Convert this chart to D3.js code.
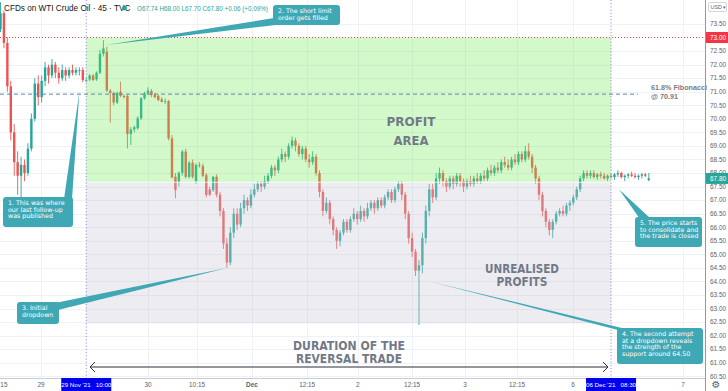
<!DOCTYPE html>
<html>
<head>
<meta charset="utf-8">
<script src="https://cdn.jsdelivr.net/npm/d3@7"></script>
<style>
  body { margin: 0; background: #fff; }
  svg { display: block; font-family: "Liberation Sans", Arial, sans-serif; }
</style>
</head>
<body>
<script>
// 45 min candles, [open, high, low, close], one array per trading day
const nov26 = [
  [73.3,74.3,73.2,73.9],[73.9,74.0,72.6,72.8],[72.8,73.0,71.0,71.2],[71.2,71.4,69.2,69.5],
  [69.5,69.8,67.9,68.4],[68.4,68.8,67.2,67.9],[67.9,68.6,67.0,68.3],[68.3,68.5,67.7,68.0],
  [68.0,69.1,67.9,68.9],[68.9,70.2,68.8,70.0],[70.0,71.5,69.9,71.3],[71.3,71.6,70.5,70.8]
];
const nov29 = [
  [70.8,71.6,70.6,71.4],[71.4,72.1,71.2,71.9],[71.9,72.0,71.3,71.6],[71.6,72.2,71.5,72.0],
  [72.0,72.1,71.5,71.7],[71.7,71.9,71.3,71.5],[71.5,72.0,71.4,71.8],[71.8,71.9,71.4,71.6],
  [71.6,71.9,71.5,71.8],[71.8,72.0,71.6,71.7],[71.7,71.9,71.6,71.8],[71.8,71.9,71.6,71.8],
  [71.8,71.9,71.35,71.43],[71.43,71.5,71.35,71.43],[71.45,71.65,71.4,71.6],[71.6,71.65,71.4,71.43],
  [71.45,71.75,71.4,71.7],[71.7,72.55,71.65,72.4],[72.4,72.9,72.3,72.6],[72.48,72.66,71.0,71.04],
  [71.04,71.1,69.86,70.95],[70.95,71.0,70.5,70.6],[70.6,71.0,70.55,70.95],[71.0,71.37,70.8,70.85],
  [70.85,70.9,70.75,70.8],[70.84,70.9,68.91,69.44],[69.44,69.7,69.03,69.61],[69.61,69.75,69.5,69.69],
  [69.65,70.1,69.6,70.02],[70.02,70.8,69.95,70.76],[70.76,71.0,70.7,70.94]
];
const nov30 = [
  [70.94,71.16,70.9,71.04],[71.03,71.1,70.8,70.88],[70.88,70.95,70.75,70.8],[70.85,70.9,70.65,70.69],
  [70.72,70.8,70.6,70.63],[70.63,70.75,70.55,70.66],[70.66,70.7,69.2,69.28],[69.28,69.4,67.8,67.84],
  [67.86,68.0,67.07,67.37],[67.68,68.05,67.5,68.01],[68.01,68.85,67.9,68.79],[68.79,68.9,67.8,67.86],
  [67.86,68.45,67.8,68.38],[68.38,68.5,67.8,67.86],[67.7,68.35,67.6,68.3],[68.3,68.4,68.2,68.28],
  [68.26,68.35,67.85,67.9],[67.92,68.0,67.1,67.19],[67.4,67.5,67.15,67.2],[67.37,67.9,67.3,67.86],
  [67.86,67.95,67.1,67.2],[67.2,67.3,66.4,66.6],[66.6,66.7,65.2,65.4],[65.4,65.6,64.5,64.7],
  [64.7,66.0,64.6,65.8],[65.8,66.7,65.6,66.5],[66.5,66.7,65.9,66.1],[66.1,66.9,66.0,66.7],
  [66.7,67.2,66.5,67.0],[67.0,67.1,66.6,66.8],[66.8,67.4,66.7,67.2]
];
const dec1 = [
  [67.2,67.6,67.1,67.4],[67.4,67.7,67.3,67.6],[67.6,67.7,67.3,67.5],[67.5,67.9,67.4,67.7],
  [67.7,68.0,67.6,67.9],[67.9,68.3,67.8,68.2],[68.2,68.3,67.9,68.1],[68.1,68.6,68.0,68.5],
  [68.5,68.9,68.4,68.7],[68.7,68.8,68.4,68.6],[68.6,69.1,68.5,69.0],[69.0,69.35,68.9,69.2],
  [69.2,69.3,68.8,69.0],[69.0,69.1,68.6,68.7],[68.7,69.0,68.5,68.9],[68.9,69.0,68.4,68.5],
  [68.5,68.7,68.2,68.4],[68.4,68.8,68.3,68.6],[68.6,68.7,67.9,68.0],[68.0,68.1,67.1,67.3],
  [67.3,67.4,66.4,66.6],[66.6,67.1,66.5,66.9],[66.9,67.0,66.1,66.3],[66.3,66.4,65.7,65.9],
  [65.9,66.0,65.2,65.5],[65.5,65.9,65.3,65.8],[65.8,66.3,65.7,66.2],[66.2,66.3,65.8,65.9],
  [65.9,66.4,65.8,66.3],[66.3,66.7,66.2,66.5],[66.5,66.6,66.1,66.3]
];
const dec2 = [
  [66.3,66.8,66.2,66.6],[66.6,66.7,66.2,66.4],[66.4,66.9,66.3,66.7],[66.7,67.0,66.6,66.9],
  [66.9,67.0,66.5,66.7],[66.7,67.1,66.6,67.0],[67.0,67.1,66.7,66.8],[66.8,67.2,66.7,67.1],
  [67.1,67.4,67.0,67.3],[67.3,67.4,66.9,67.0],[67.0,67.5,66.9,67.4],[67.4,67.7,67.3,67.6],
  [67.6,67.7,67.0,67.2],[67.2,67.3,66.3,66.5],[66.5,66.6,65.4,65.6],[65.6,65.8,64.9,65.1],
  [65.1,65.2,64.2,64.4],[64.4,64.8,62.4,64.6],[64.6,65.8,64.3,65.6],[65.6,66.8,65.4,66.6],
  [66.6,67.6,66.4,67.4],[67.4,67.6,66.9,67.1],[67.1,68.0,67.0,67.8],[67.8,68.2,67.6,68.0],
  [68.0,68.1,67.5,67.7],[67.7,67.8,67.3,67.5],[67.5,67.9,67.4,67.8],[67.8,67.9,67.4,67.6],
  [67.6,68.0,67.5,67.9],[67.9,68.0,67.5,67.7],[67.7,67.8,67.3,67.5]
];
const dec3 = [
  [67.5,67.8,67.4,67.7],[67.7,67.9,67.5,67.6],[67.6,67.9,67.5,67.8],[67.8,68.0,67.6,67.7],
  [67.7,68.0,67.6,67.9],[67.9,68.1,67.7,67.8],[67.8,68.2,67.7,68.1],[68.1,68.3,67.9,68.0],
  [68.0,68.3,67.9,68.2],[68.2,68.4,68.0,68.1],[68.1,68.5,68.0,68.4],[68.4,68.6,68.2,68.3],
  [68.3,68.5,68.1,68.2],[68.2,68.6,68.1,68.5],[68.5,68.7,68.3,68.4],[68.4,68.8,68.3,68.7],
  [68.7,68.8,68.4,68.5],[68.5,69.0,68.4,68.8],[68.8,69.1,68.5,68.6],[68.6,68.7,68.0,68.2],
  [68.2,68.3,67.6,67.8],[67.8,67.9,67.0,67.2],[67.2,67.3,66.4,66.6],[66.6,66.7,66.0,66.2],
  [66.2,66.3,65.7,65.9],[65.9,66.3,65.6,66.2],[66.2,66.6,66.1,66.5],[66.5,66.7,66.4,66.6],
  [66.6,66.8,66.4,66.5],[66.5,66.9,66.4,66.8],[66.8,67.0,66.6,66.9]
];
const dec6 = [
  [66.9,67.2,66.8,67.1],[67.1,67.5,67.0,67.4],[67.4,67.9,67.3,67.8],[67.8,68.1,67.7,68.0],
  [68.0,68.1,67.8,67.9],[67.9,68.1,67.8,68.0],[68.0,68.1,67.8,67.85],[67.85,68.0,67.75,67.95],
  [67.95,68.05,67.8,67.9],[67.9,68.0,67.75,67.8],[67.8,67.95,67.7,67.9],[67.9,68.0,67.8,67.85],
  [67.85,68.0,67.75,67.95],[67.95,68.1,67.85,68.0],[68.0,68.05,67.8,67.85],[67.85,67.95,67.7,67.9],
  [67.9,68.0,67.8,67.95],[67.95,68.05,67.85,67.9],[67.9,68.0,67.8,67.85],[67.85,67.95,67.75,67.9],
  [67.9,68.0,67.8,67.95],[67.95,68.0,67.85,67.9],[67.74,68.0,67.7,67.8]
];

const priceTicks = [60.5,61,61.5,62,62.5,63,63.5,64,64.5,65,65.5,66,66.5,67,67.5,68,68.5,69,69.5,70,70.5,71,71.5,72,72.5,73.5];
const timeLabels = ["12:15","29","30","10:15","Dec","12:15","2","12:15","3","12:15","6","7"];
const timeIdx    = [-0.3, 11.8, 43, 57.3, 73.3, 89.4, 104.2, 120, 135.4, 150.6, 166.9, 199];

const tradeStart = 25, tradeEnd = 178;
const tradeLabels = ["29 Nov '21   10:00", "06 Dec '21   08:30"];
const entryPrice = 73.00, lastPrice = 67.80, zoneMid = 67.66, fibPrice = 70.91, zoneLow = 62.45;

const W = 728, H = 391, plotR = 705, plotB = 378;
const svg = d3.select("body").append("svg").attr("width", W).attr("height", H);

const candles = [].concat(nov26, nov29, nov30, dec1, dec2, dec3, dec6)
  .map((d, i) => ({i, o: d[0], h: d[1], l: d[2], c: d[3]}));

const x = d3.scaleLinear().domain([0, 200]).range([0.5, 0.5 + 200 * 3.43]);
const y = d3.scaleLinear().domain([60.5, 73]).range([376.3, 37.5]);

svg.append("defs").append("clipPath").attr("id", "plot")
  .append("rect").attr("width", plotR).attr("height", plotB);

const plot = svg.append("g").attr("clip-path", "url(#plot)");

// grid
plot.append("g").selectAll("line").data(priceTicks).join("line")
  .attr("x1", 0).attr("x2", plotR).attr("y1", d => Math.round(y(d)) + 0.5).attr("y2", d => Math.round(y(d)) + 0.5)
  .attr("stroke", "#eef1f7");
plot.append("g").selectAll("line").data(timeIdx).join("line")
  .attr("x1", d => Math.round(x(d)) + 0.5).attr("x2", d => Math.round(x(d)) + 0.5).attr("y1", 0).attr("y2", plotB)
  .attr("stroke", "#eef1f7");

// candles
const cg = plot.append("g");
cg.selectAll("line").data(candles).join("line")
  .attr("x1", d => x(d.i)).attr("x2", d => x(d.i))
  .attr("y1", d => y(d.h)).attr("y2", d => y(d.l))
  .attr("stroke", d => d.c >= d.o ? "#26a69a" : "#ef5350").attr("stroke-width", 0.9);
cg.selectAll("rect").data(candles).join("rect")
  .attr("x", d => x(d.i) - 1.2).attr("width", 2.4)
  .attr("y", d => y(Math.max(d.o, d.c)))
  .attr("height", d => Math.max(0.8, Math.abs(y(d.o) - y(d.c))))
  .attr("fill", d => d.c >= d.o ? "#26a69a" : "#ef5350");

// zones, laid over the candles
plot.append("rect")
  .attr("x", x(tradeStart)).attr("width", x(tradeEnd) - x(tradeStart))
  .attr("y", y(entryPrice)).attr("height", y(zoneMid) - y(entryPrice))
  .attr("fill", "rgb(110,235,80)").attr("opacity", 0.3);
plot.append("rect")
  .attr("x", x(tradeStart)).attr("width", x(tradeEnd) - x(tradeStart))
  .attr("y", y(zoneMid)).attr("height", y(zoneLow) - y(zoneMid))
  .attr("fill", "rgb(196,196,214)").attr("opacity", 0.33);
plot.append("line").attr("x1", x(tradeStart)).attr("x2", x(tradeEnd))
  .attr("y1", y(zoneMid)).attr("y2", y(zoneMid)).attr("stroke", "#fff").attr("stroke-opacity", 0.8);

// horizontal levels
plot.append("line").attr("x1", 0).attr("x2", 638).attr("y1", y(fibPrice)).attr("y2", y(fibPrice))
  .attr("stroke", "#5f86ad").attr("stroke-dasharray", "4,3");
plot.append("line").attr("x1", 0).attr("x2", plotR).attr("y1", y(entryPrice)).attr("y2", y(entryPrice))
  .attr("stroke", "#f04040").attr("stroke-dasharray", "1,2");

// trade start / end markers
plot.selectAll(".vmark").data([tradeStart, tradeEnd]).join("line").attr("class", "vmark")
  .attr("x1", d => x(d)).attr("x2", d => x(d)).attr("y1", 0).attr("y2", plotB)
  .attr("stroke", "#8e8ee0").attr("stroke-dasharray", "1.2,2");

// big labels, squeezed to the reference widths
const big = (lines, widths, cx, y0, dy) => {
  lines.forEach((t, k) => plot.append("text")
    .attr("x", cx - widths[k] / 2).attr("y", y0 + k * dy)
    .attr("textLength", widths[k]).attr("lengthAdjust", "spacingAndGlyphs")
    .attr("font-family", "'DejaVu Sans Condensed','DejaVu Sans',sans-serif")
    .attr("font-weight", "bold").attr("font-size", 12.8).attr("fill", "#717988").text(t));
};
big(["PROFIT", "AREA"], [49, 35], 411, 126, 18.5);
big(["UNREALISED", "PROFITS"], [74, 51], 522, 273.3, 12.7);
big(["DURATION OF THE", "REVERSAL TRADE"], [112, 106], 349, 350, 13.3);

// duration arrow
const ay = 367;
plot.append("line").attr("x1", 90).attr("x2", 608).attr("y1", ay).attr("y2", ay).attr("stroke", "#2a2e39");
plot.append("path").attr("d", `M95,${ay - 5} L90,${ay} L95,${ay + 5} M603,${ay - 5} L608,${ay} L603,${ay + 5}`)
  .attr("fill", "none").attr("stroke", "#2a2e39");

// callouts
const teal = "#3fa8b4";
const callouts = [
  {box: [3, 197, 70, 30], base: [[64, 199], [72, 199]], tip: [23, 71.0],
   lines: ["1. This was where", "our last follow-up", "was published"]},
  {box: [273, 5, 67, 20], base: [[274, 18], [276, 25]], tip: [30.8, 72.72],
   lines: ["2. The short limit", "order gets filled"]},
  {box: [17, 302, 42, 22], base: [[50, 304], [58, 310]], tip: [66, 64.5],
   lines: ["3. Initial", "dropdown"]},
  {box: [617, 328, 86, 36], base: [[618, 330], [626, 329]], tip: [125.2, 64.0],
   lines: ["4. The second attempt", "at a dropdown reveals", "the strength of the", "support around 64.50"]},
  {box: [635, 217, 67, 30], base: [[640, 219], [650, 218]], tip: [180.3, 67.4],
   lines: ["5. The price starts", "to consolidate and", "the trade is closed"]}
];
const cl = svg.append("g");
callouts.forEach(c => {
  const [bx, by, bw, bh] = c.box;
  const t = [x(c.tip[0]), y(c.tip[1])];
  cl.append("path").attr("d", d3.line()([c.base[0], t, c.base[1]]) + "Z").attr("fill", teal);
  cl.append("rect").attr("x", bx).attr("y", by).attr("width", bw).attr("height", bh).attr("rx", 3).attr("fill", teal);
  c.lines.forEach((s, k) => cl.append("text")
    .attr("x", bx + 5).attr("y", by + 8 + k * 6.6)
    .attr("font-family", "'DejaVu Sans',sans-serif").attr("font-size", 6.3)
    .attr("fill", "#fff").text(s));
});

// header
svg.append("text").attr("x", 4).attr("y", 11).attr("font-size", 8.2).attr("fill", "#131722")
  .text("CFDs on WTI Crude Oil · 45 · TVC");
svg.append("circle").attr("cx", 124.5).attr("cy", 8).attr("r", 2.4).attr("fill", "#26a69a");
svg.append("text").attr("x", 137).attr("y", 10.5).attr("font-size", 6.3).attr("fill", "#26a69a")
  .text("O67.74 H68.00 L67.70 C67.80 +0.06 (+0.09%)");

// axes
svg.append("rect").attr("x", plotR).attr("y", 0).attr("width", W - plotR).attr("height", H).attr("fill", "#fff");
svg.append("rect").attr("x", 0).attr("y", plotB).attr("width", W).attr("height", H - plotB).attr("fill", "#fff");

// fib label sits over the axis edge
svg.append("text").attr("x", 651).attr("y", y(fibPrice) - 4)
  .attr("fill", "#787b86").attr("font-size", 7.2).attr("font-weight", "bold").text("61.8% Fibonacci");
svg.append("text").attr("x", 651).attr("y", y(fibPrice) + 5)
  .attr("fill", "#787b86").attr("font-size", 7.2).attr("font-weight", "bold").text("@ " + fibPrice.toFixed(2));

svg.append("line").attr("x1", plotR + 0.5).attr("x2", plotR + 0.5).attr("y1", 0).attr("y2", H).attr("stroke", "#9598a1");
svg.append("line").attr("x1", 0).attr("x2", plotR).attr("y1", plotB + 0.5).attr("y2", plotB + 0.5).attr("stroke", "#c9ccd3");

svg.append("g").selectAll("text").data(priceTicks).join("text")
  .attr("x", 710).attr("y", d => y(d) + 2.3).attr("font-size", 6.4).attr("fill", "#5d606b")
  .text(d => d.toFixed(2));

svg.append("rect").attr("x", 708.5).attr("y", 2.5).attr("width", 18).attr("height", 9).attr("rx", 1.5)
  .attr("fill", "#fff").attr("stroke", "#d1d4dc");
svg.append("text").attr("x", 710.5).attr("y", 9.3).attr("font-size", 5.4).attr("fill", "#5d606b").text("USD ▾");

const priceTag = (p, col) => {
  svg.append("rect").attr("x", 706).attr("y", y(p) - 5.5).attr("width", 22).attr("height", 11).attr("fill", col);
  svg.append("text").attr("x", 710).attr("y", y(p) + 2.3).attr("font-size", 6.4).attr("fill", "#fff").text(p.toFixed(2));
};
priceTag(entryPrice, "#f23645");
priceTag(lastPrice, "#26a69a");

svg.append("g").selectAll("text").data(timeLabels).join("text")
  .attr("x", (d, k) => x(timeIdx[k])).attr("y", 387).attr("text-anchor", "middle")
  .attr("font-size", 6.4).attr("fill", "#5d606b")
  .attr("font-weight", d => d === "Dec" ? "bold" : null).text(d => d);

[tradeStart, tradeEnd].forEach((d, k) => {
  svg.append("rect").attr("x", x(d) - 25).attr("y", 378).attr("width", 50).attr("height", 13).attr("fill", "#0000ee");
  svg.append("text").attr("x", x(d)).attr("y", 387).attr("text-anchor", "middle")
    .attr("font-size", 6.2).attr("fill", "#fff").attr("xml:space", "preserve").text(tradeLabels[k]);
});

svg.append("text").attr("x", 716).attr("y", 388).attr("text-anchor", "middle")
  .attr("font-family", "'DejaVu Sans',sans-serif").attr("font-size", 10).attr("fill", "#5d606b").text("⚙");
</script>
</body>
</html>
